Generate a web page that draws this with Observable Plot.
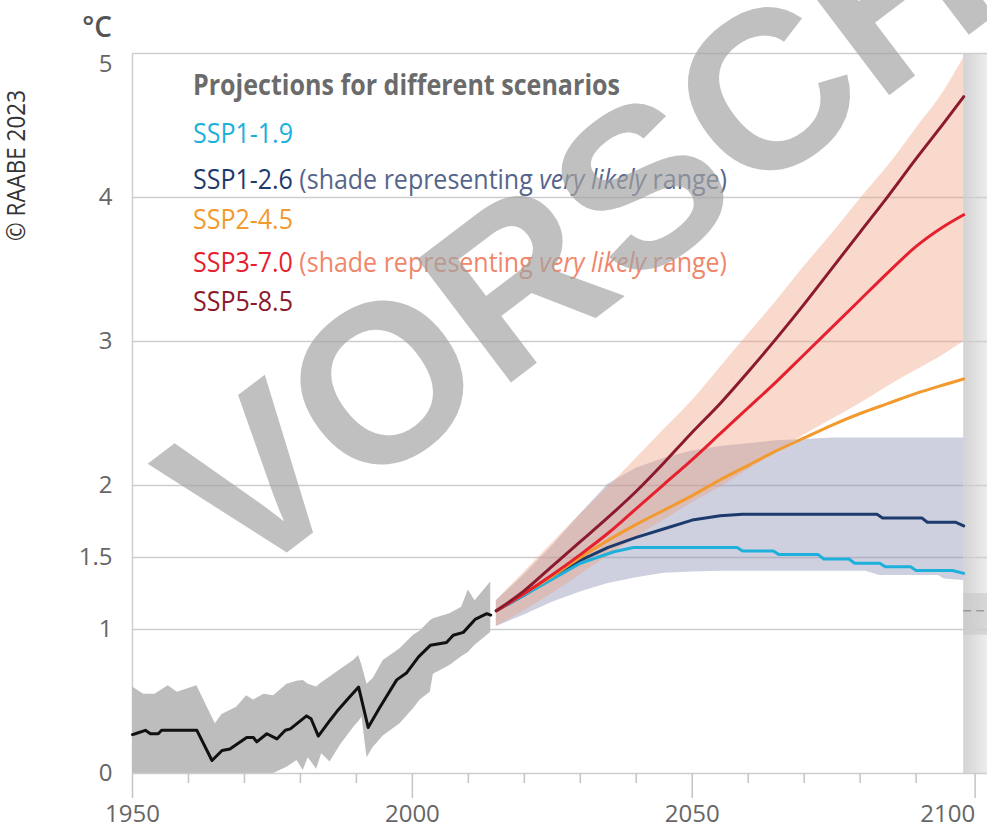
<!DOCTYPE html>
<html><head><meta charset="utf-8">
<script src="https://cdn.jsdelivr.net/npm/d3@7"></script>
<script src="https://cdn.jsdelivr.net/npm/@observablehq/plot@0.6"></script>
<style>
body{margin:0;background:#fff;}
#wrap{position:relative;width:987px;height:829px;overflow:hidden;background:#fff;}
</style></head><body><div id="wrap"></div>
<script>
// ---------- data ----------
const histYears = [1950, 1950.5, 1952.3, 1953.2, 1954.6, 1955.2, 1961.5, 1964.2, 1966, 1967.4, 1970.4, 1971.6, 1972.2, 1974, 1975.8, 1977.3, 1978.2, 1981.1, 1981.9, 1983.2, 1985.3, 1986.5, 1988.3, 1990.4, 1992.1, 1994.2, 1997.2, 1999, 2001.1, 2003.2, 2006.1, 2007.3, 2009.1, 2011.2, 2013.3, 2014];
const histMean = [0.27, 0.276, 0.30, 0.276, 0.276, 0.30, 0.30, 0.09, 0.16, 0.17, 0.25, 0.25, 0.22, 0.276, 0.24, 0.30, 0.31, 0.40, 0.38, 0.26, 0.37, 0.43, 0.51, 0.60, 0.32, 0.46, 0.65, 0.70, 0.81, 0.89, 0.91, 0.96, 0.98, 1.07, 1.11, 1.10];

const histBandYears = [1950, 1952, 1954, 1956.4, 1958, 1961.5, 1964.8, 1966, 1968.6, 1970.4, 1971.6, 1973.5, 1975.2, 1977.6, 1979.4, 1980.5, 1981.4, 1982.9, 1983.8, 1985.3, 1987.1, 1989.5, 1990.4, 1991, 1991.9, 1993, 1994.8, 1997.8, 2000.2, 2001.4, 2003.2, 2003.75, 2006.7, 2008.8, 2010, 2011.2, 2014];
const histBandLow = [0, 0, 0, 0, 0, 0, 0, 0, 0, 0, 0, 0, 0, 0.044, 0.09, 0.02, 0.11, 0.03, 0.137, 0.08, 0.194, 0.32, 0.36, 0.39, 0.11, 0.18, 0.26, 0.345, 0.45, 0.51, 0.565, 0.69, 0.75, 0.81, 0.84, 0.89, 0.98];
const histBandHigh = [0.60, 0.55, 0.55, 0.61, 0.565, 0.61, 0.345, 0.41, 0.46, 0.54, 0.51, 0.55, 0.54, 0.62, 0.64, 0.645, 0.62, 0.60, 0.63, 0.67, 0.72, 0.785, 0.82, 0.75, 0.62, 0.66, 0.785, 0.866, 0.96, 0.99, 1.06, 1.074, 1.11, 1.155, 1.275, 1.20, 1.33];

const projYears = [2015, 2020, 2025, 2030, 2035, 2040, 2045, 2050, 2055, 2060, 2065, 2070, 2075, 2080, 2085, 2090, 2095, 2098.5];
const ssp585 = [1.13, 1.27, 1.44, 1.61, 1.78, 1.96, 2.16, 2.37, 2.57, 2.79, 3.02, 3.26, 3.51, 3.76, 4.01, 4.27, 4.52, 4.70];
const ssp370 = [1.13, 1.25, 1.38, 1.52, 1.67, 1.84, 2.01, 2.18, 2.36, 2.54, 2.72, 2.91, 3.10, 3.29, 3.48, 3.66, 3.80, 3.88];
const ssp245 = [1.13, 1.25, 1.37, 1.50, 1.62, 1.73, 1.83, 1.93, 2.04, 2.14, 2.24, 2.33, 2.42, 2.50, 2.57, 2.64, 2.70, 2.74];
const ssp370Low = [1.02, 1.13, 1.25, 1.38, 1.51, 1.64, 1.76, 1.88, 1.99, 2.11, 2.23, 2.35, 2.46, 2.57, 2.69, 2.80, 2.91, 3.00];
const ssp370High = [1.20, 1.40, 1.60, 1.80, 1.99, 2.19, 2.39, 2.59, 2.82, 3.05, 3.28, 3.52, 3.75, 3.99, 4.22, 4.48, 4.74, 4.97];

const ssp126Years = [2015, 2020, 2025, 2030, 2035, 2040, 2045, 2050, 2055, 2059, 2083, 2084, 2091, 2092, 2097, 2098.5];
const ssp126 = [1.13, 1.24, 1.36, 1.48, 1.57, 1.64, 1.70, 1.76, 1.79, 1.80, 1.80, 1.775, 1.775, 1.745, 1.745, 1.72];
const ssp119Years = [2015, 2020, 2025, 2030, 2033, 2036, 2039.5, 2058, 2059, 2064.5, 2065.5, 2072.5, 2073.5, 2078, 2079, 2083.5, 2084.5, 2089, 2090, 2096.5, 2098.5];
const ssp119 = [1.13, 1.24, 1.35, 1.46, 1.50, 1.54, 1.57, 1.57, 1.545, 1.545, 1.52, 1.52, 1.49, 1.49, 1.46, 1.46, 1.435, 1.435, 1.41, 1.41, 1.39];

const band126Years = [2015, 2020, 2025, 2030, 2035, 2040, 2045, 2050, 2055, 2060, 2065, 2070, 2075, 2081, 2083.5, 2094, 2095, 2098.5];
const band126Low = [1.02, 1.10, 1.19, 1.26, 1.32, 1.36, 1.39, 1.40, 1.405, 1.405, 1.405, 1.405, 1.405, 1.405, 1.375, 1.375, 1.35, 1.34];
const band126High = [1.20, 1.38, 1.58, 1.80, 2.01, 2.12, 2.19, 2.24, 2.27, 2.29, 2.31, 2.32, 2.33, 2.33, 2.33, 2.33, 2.33, 2.33];

const yTicks = [0, 1, 1.5, 2, 3, 4, 5];
const gridLevels = [1, 1.5, 2, 3, 4, 5];
const xMajorTicks = [1950, 2000, 2050];
const xLastTick = [2100];
const xMinorTicks = [1960, 1970, 1980, 1990, 2010, 2020, 2030, 2040, 2060, 2070, 2080, 2090];

const legendTitle = "Projections for different scenarios";
const scenarioNames = ["SSP1-1.9", "SSP1-2.6", "SSP2-4.5", "SSP3-7.0", "SSP5-8.5"];
const scenarioColors = ["#1cb0db", "#1d3a6d", "#f29a2e", "#e5202f", "#8b1a2c"];
const scenarioHasShade = [false, true, false, true, false];
const shadeTextColors = [null, "#56658c", null, "#f0866a", null];
const unitLabel = "°C";
const creditText = "© RAABE 2023";
const watermarkText = "VORSCHAU";

// ---------- build ----------
const zip = (xs, ys) => xs.map((x, i) => ({x, y: ys[i]}));
const zip3 = (xs, lo, hi) => xs.map((x, i) => ({x, lo: lo[i], hi: hi[i]}));
const panelStart = 2098.5, xMax = 2102.75;
const fmt = d => String(d);

const defsMark = () => {
  const g = d3.create("svg:defs");
  g.html(`<linearGradient id="panelGrad" x1="0" x2="1" y1="0" y2="0">
    <stop offset="0" stop-color="#d3d3d3"/><stop offset="1" stop-color="#ededed"/></linearGradient>`);
  return g.node();
};

const chart = Plot.plot({
  width: 987, height: 829,
  marginLeft: 132, marginRight: 0, marginTop: 53, marginBottom: 56,
  x: {domain: [1950, xMax], label: null},
  y: {domain: [0, 5], label: null},
  style: {fontFamily: "'Open Sans', sans-serif", fontSize: "24px", color: "#666", background: "#fff", overflow: "visible"},
  marks: [
    defsMark,
    Plot.rect([{x1: panelStart, x2: xMax, y1: 0, y2: 5}], {x1: "x1", x2: "x2", y1: "y1", y2: "y2", fill: "url(#panelGrad)"}),
    Plot.rect([{x1: panelStart, x2: xMax, y1: 0.96, y2: 1.25}], {x1: "x1", x2: "x2", y1: "y1", y2: "y2", fill: "#c4c4c4", fillOpacity: 0.55}),
    Plot.ruleY([1.13], {x1: panelStart, x2: xMax, stroke: "#9a9a9a", strokeWidth: 1.5, strokeDasharray: "8,5"}),
    Plot.ruleY(gridLevels, {stroke: "#cdcdcd", strokeWidth: 1.5}),
    Plot.ruleX([1950], {y1: 0, y2: 5, stroke: "#cdcdcd", strokeWidth: 1.5}),
    Plot.areaY(zip3(histBandYears, histBandLow, histBandHigh), {x: "x", y1: "lo", y2: "hi", fill: "#bdbdbd"}),
    Plot.areaY(zip3(band126Years, band126Low, band126High), {x: "x", y1: "lo", y2: "hi", fill: "#8a8eb2", fillOpacity: 0.42}),
    Plot.areaY(zip3(projYears, ssp370Low, ssp370High), {x: "x", y1: "lo", y2: "hi", fill: "#f09a78", fillOpacity: 0.38, curve: "monotone-x"}),
    Plot.line(zip(histYears, histMean), {x: "x", y: "y", stroke: "#111", strokeWidth: 3}),
    Plot.line(zip(ssp126Years, ssp126), {x: "x", y: "y", stroke: scenarioColors[1], strokeWidth: 3}),
    Plot.line(zip(ssp119Years, ssp119), {x: "x", y: "y", stroke: scenarioColors[0], strokeWidth: 3}),
    Plot.line(zip(projYears, ssp245), {x: "x", y: "y", stroke: scenarioColors[2], strokeWidth: 3, curve: "monotone-x"}),
    Plot.line(zip(projYears, ssp370), {x: "x", y: "y", stroke: scenarioColors[3], strokeWidth: 3, curve: "monotone-x"}),
    Plot.line(zip(projYears, ssp585), {x: "x", y: "y", stroke: scenarioColors[4], strokeWidth: 3, curve: "monotone-x"}),
    Plot.ruleY([0], {stroke: "#cdcdcd", strokeWidth: 1.5}),
    Plot.axisX({ticks: xMajorTicks, tickSize: 25, tickPadding: 6, tickFormat: fmt, stroke: "#c4c4c4", strokeWidth: 1.5, fill: "#666", label: null}),
    Plot.axisX({ticks: xLastTick, tickSize: 25, tickPadding: 6, tickFormat: fmt, textAnchor: "end", dx: 3, stroke: "#c4c4c4", strokeWidth: 1.5, fill: "#666", label: null}),
    Plot.axisX({ticks: xMinorTicks, tickSize: 10, tickFormat: () => "", stroke: "#c4c4c4", strokeWidth: 1.5, label: null}),
    Plot.axisY({ticks: yTicks.filter(v => v !== 5), tickSize: 0, tickPadding: 20, tickFormat: fmt, fill: "#666", label: null}),
    Plot.axisY({ticks: [5], tickSize: 0, tickPadding: 20, dy: 11, tickFormat: fmt, fill: "#666", label: null})
  ]
});

document.getElementById("wrap").appendChild(chart);

// ---------- annotations (legend, unit, credit, watermark) ----------
const svg = d3.select(chart);
const ann = svg.append("g").attr("font-family", "'Open Sans', sans-serif").attr("text-anchor", "start");

ann.append("text").attr("x", 112).attr("y", 37).attr("text-anchor", "end")
  .attr("font-size", 28).attr("font-weight", 600).attr("fill", "#555").text(unitLabel);

ann.append("text").attr("transform", "translate(25,241) rotate(-90)")
  .attr("font-size", 25).attr("fill", "#333")
  .attr("textLength", 151).attr("lengthAdjust", "spacingAndGlyphs").text(creditText);

ann.append("text").attr("x", 193).attr("y", 95).attr("font-size", 28).attr("font-weight", 700)
  .attr("fill", "#6b6b6b").attr("textLength", 427).attr("lengthAdjust", "spacingAndGlyphs").text(legendTitle);

const rowBaselines = [143, 189, 229, 272, 311];
scenarioNames.forEach((name, i) => {
  const t = ann.append("text").attr("x", 193).attr("y", rowBaselines[i]).attr("font-size", 28)
    .attr("textLength", scenarioHasShade[i] ? 534 : 100).attr("lengthAdjust", "spacingAndGlyphs");
  t.append("tspan").attr("fill", scenarioColors[i]).text(name);
  if (scenarioHasShade[i]) {
    t.append("tspan").attr("fill", shadeTextColors[i]).text(" (shade representing ");
    t.append("tspan").attr("fill", shadeTextColors[i]).attr("font-style", "italic").text("very likely");
    t.append("tspan").attr("fill", shadeTextColors[i]).text(" range)");
  }
});

svg.append("text").attr("transform", "translate(240,588) rotate(-37.2)").attr("text-anchor", "start")
  .attr("font-family", "'Liberation Sans', Arial, sans-serif").attr("font-weight", 700)
  .attr("font-size", 225).attr("fill", "#a2a2a2").attr("fill-opacity", 0.68).text(watermarkText);
</script>
</body></html>
